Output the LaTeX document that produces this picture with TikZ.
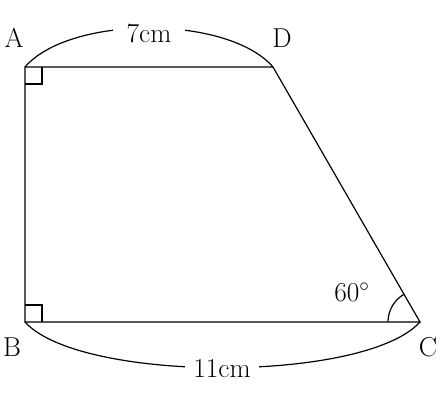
\documentclass[tikz,border=0pt]{standalone}
\usetikzlibrary{positioning}
\begin{document}
\begin{tikzpicture}[x=0.75pt,y=-0.75pt,line width=0.9pt,
    corner label/.style={font=\fontsize{20.5}{24}\selectfont,inner sep=1pt},
    length label/.style={font=\fontsize{20.5}{24}\selectfont,fill=white,inner ysep=5pt}]
  \useasboundingbox (0,0) rectangle (440,405);
  % corners
  \coordinate (A) at (25,67);
  \coordinate (D) at (273,67);
  \coordinate (B) at (25,322);
  \coordinate (C) at (420,322);
  \node[corner label] (a) at (14,38) {A};
  \node[corner label] (d) at (282,38) {D};
  \node[corner label] (b) at (12,347) {B};
  \node[corner label] (c) at (428,347) {C};
  % sides
  \draw (A) -- (D) -- (C) -- (B) -- cycle;
  % right angles
  \draw (A) ++(0,17) -- ++(17,0) -- ++(0,-17);
  \draw (B) ++(0,-17) -- ++(17,0) -- ++(0,17);
  % angle at C
  \draw (C) ++(-32,0) arc[start angle=180,end angle=240,radius=32];
  \node[corner label] (angC) at (352,292) {60$^\circ$};
  % lengths
  \draw (A) .. controls (70,15) and (228,15) .. (D);
  \node[length label,inner xsep=10pt] (top) at (149,33) {7cm};
  \draw (B) .. controls (80,383) and (365,383) .. (C);
  \node[length label,inner xsep=6pt] (bottom) at (222,369) {11cm};
\end{tikzpicture}
\end{document}
